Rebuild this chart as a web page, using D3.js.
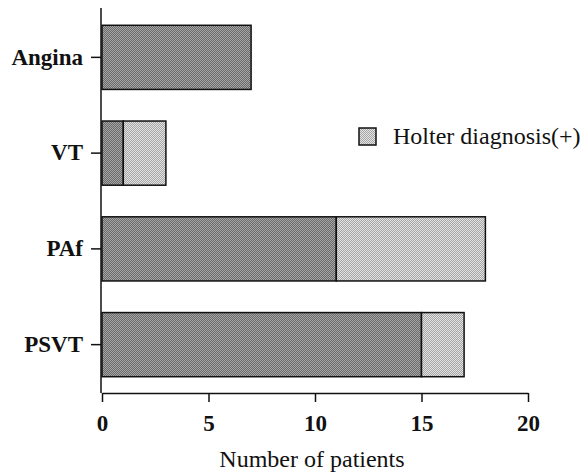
<!DOCTYPE html>
<html>
<head>
<meta charset="utf-8">
<script src="https://cdn.jsdelivr.net/npm/d3@7"></script>
<style>
  body { margin: 0; background: #fff; }
  text { font-family: "Liberation Serif", "Times New Roman", serif; fill: #111; }
</style>
</head>
<body>
<svg class="chart"></svg>
<script>
const width = 588;
const height = 475;
const margin = { top: 8, right: 60, bottom: 82, left: 101 };

const categories = ["Angina", "VT", "PAf", "PSVT"];
const holterPos = [7, 1, 11, 15];
const holterNeg = [0, 2, 7, 2];
const xTicks = [0, 5, 10, 15, 20];

const svg = d3.select(".chart").attr("width", width).attr("height", height);

const defs = svg.append("defs");
function checker(id, a, b) {
  const p = defs
    .append("pattern")
    .attr("id", id)
    .attr("width", 2)
    .attr("height", 2)
    .attr("patternUnits", "userSpaceOnUse");
  p.append("rect").attr("width", 2).attr("height", 2).attr("fill", a);
  p.append("rect").attr("width", 1).attr("height", 1).attr("fill", b);
  p.append("rect").attr("x", 1).attr("y", 1).attr("width", 1).attr("height", 1).attr("fill", b);
}
checker("dark", "#6a6a6a", "#a6a6a6");
checker("light", "#a4a4a4", "#e4e4e4");

const xScale = d3.scaleLinear().domain([0, 20]).range([margin.left + 1, 528]);
const yScale = d3
  .scaleBand()
  .domain(categories)
  .range([9, 393])
  .paddingInner(0.33)
  .paddingOuter(0.17);

const rows = categories.map((c, i) => ({ cat: c, pos: holterPos[i], neg: holterNeg[i] }));

// dark segments
svg
  .selectAll("rect.pos")
  .data(rows)
  .enter()
  .append("rect")
  .attr("class", "pos")
  .attr("x", xScale(0))
  .attr("y", (d) => yScale(d.cat))
  .attr("width", (d) => xScale(d.pos) - xScale(0))
  .attr("height", yScale.bandwidth())
  .attr("fill", "url(#dark)")
  .attr("stroke", "#111")
  .attr("stroke-width", 1.5);

// light segments
svg
  .selectAll("rect.neg")
  .data(rows.filter((d) => d.neg > 0))
  .enter()
  .append("rect")
  .attr("class", "neg")
  .attr("x", (d) => xScale(d.pos))
  .attr("y", (d) => yScale(d.cat))
  .attr("width", (d) => xScale(d.pos + d.neg) - xScale(d.pos))
  .attr("height", yScale.bandwidth())
  .attr("fill", "url(#light)")
  .attr("stroke", "#111")
  .attr("stroke-width", 1.5);

// x axis
const xAxis = svg
  .append("g")
  .attr("transform", `translate(0,393)`)
  .call(d3.axisBottom(xScale).tickValues(xTicks).tickSize(9).tickPadding(13).tickSizeOuter(0));
xAxis.select(".domain").attr("stroke", "#111").attr("stroke-width", 1.5);
xAxis.selectAll(".tick line").attr("stroke", "#111").attr("stroke-width", 1.5);
xAxis
  .selectAll(".tick text")
  .style("font-size", "23px")
  .style("font-weight", "bold")
  .attr("fill", "#111")
  .style("font-family", "'Liberation Serif', serif");

// y axis
const yAxis = svg
  .append("g")
  .attr("transform", `translate(${margin.left},0)`)
  .call(d3.axisLeft(yScale).tickSize(10).tickPadding(8).tickSizeOuter(0));
yAxis.select(".domain").attr("d", "M0,8V393").attr("stroke", "#111").attr("stroke-width", 1.5);
yAxis.selectAll(".tick line").attr("stroke", "#111").attr("stroke-width", 1.5);
yAxis
  .selectAll(".tick text")
  .style("font-size", "23px")
  .style("font-weight", "bold")
  .attr("fill", "#111")
  .style("font-family", "'Liberation Serif', serif");

// axis title
svg
  .append("text")
  .attr("x", 312)
  .attr("y", 467)
  .attr("text-anchor", "middle")
  .style("font-size", "24px")
  .text("Number of patients");

// legend
const legend = svg.append("g").attr("transform", "translate(359,128)");
legend
  .append("rect")
  .attr("width", 17)
  .attr("height", 17)
  .attr("fill", "url(#light)")
  .attr("stroke", "#111")
  .attr("stroke-width", 1.5);
legend
  .append("text")
  .attr("x", 34)
  .attr("y", 16)
  .style("font-size", "24px")
  .text("Holter diagnosis(+)");
</script>
</body>
</html>
